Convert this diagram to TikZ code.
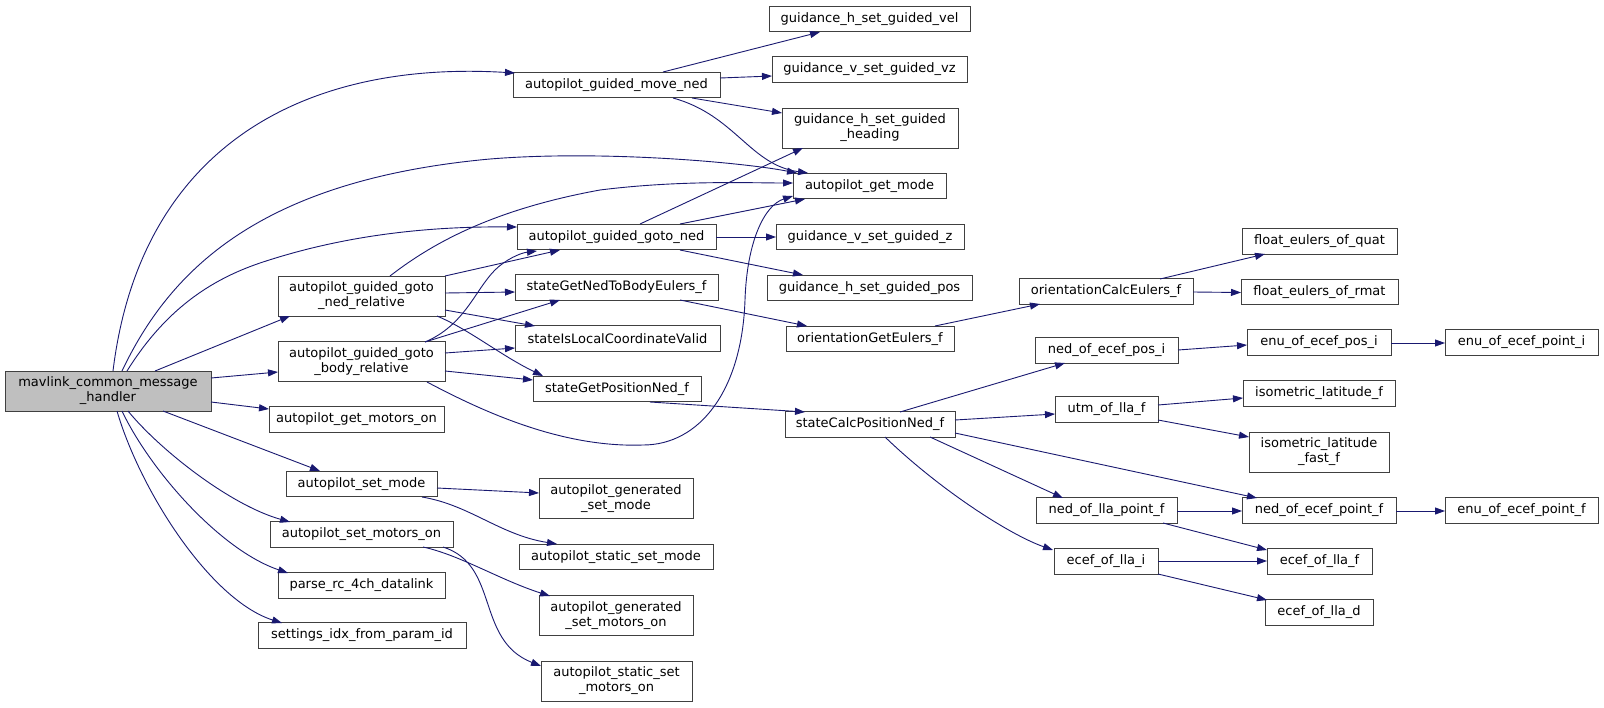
\documentclass[tikz,border=0pt]{standalone}
\usepackage{fontspec}
\setmainfont{DejaVu Sans}
\usetikzlibrary{arrows.meta}
\definecolor{edgec}{HTML}{191970}
\definecolor{boxc}{HTML}{404040}
\definecolor{rootc}{HTML}{BFBFBF}
\begin{document}
\begin{tikzpicture}[x=1pt,y=-1pt,
 fn/.style={draw=boxc, line width=1pt, fill=white, inner sep=0pt, font=\fontsize{13}{15}\selectfont, align=center, minimum height=25.5pt},
 fn2/.style={fn, minimum height=40pt},
 e/.style={draw=edgec, line width=0.9pt, -{Triangle[length=10pt,width=7pt]}}]
\useasboundingbox[fill=white] (0,0) rectangle (1604,707);
% column 0
\node[fn2, fill=rootc, minimum width=206pt] (root) at (108,391) {mavlink\_common\_message\\\_handler};
% column 1
\node[fn2, minimum width=167pt] (body) at (361.5,361.5) {autopilot\_guided\_goto\\\_body\_relative};
\node[fn2, minimum width=167pt] (nedrel) at (361.5,296) {autopilot\_guided\_goto\\\_ned\_relative};
\node[fn, minimum width=175pt] (motorson) at (356.5,419.5) {autopilot\_get\_motors\_on};
\node[fn, minimum width=151pt] (setmode) at (361.5,484) {autopilot\_set\_mode};
\node[fn, minimum width=183pt] (setmotors) at (361.5,534.5) {autopilot\_set\_motors\_on};
\node[fn, minimum width=167pt] (parserc) at (361.5,585.5) {parse\_rc\_4ch\_datalink};
\node[fn, minimum width=208pt] (settings) at (362,635.5) {settings\_idx\_from\_param\_id};
% column 2
\node[fn, minimum width=207pt] (moveNed) at (616.5,85) {autopilot\_guided\_move\_ned};
\node[fn, minimum width=199pt] (gotoNed) at (616.5,237) {autopilot\_guided\_goto\_ned};
\node[fn, minimum width=203pt] (nedToBody) at (616.5,287.5) {stateGetNedToBodyEulers\_f};
\node[fn, minimum width=205pt] (localValid) at (617.5,338.5) {stateIsLocalCoordinateValid};
\node[fn, minimum width=168pt] (posNed) at (617,389) {stateGetPositionNed\_f};
\node[fn2, minimum width=154pt] (gensetmode) at (616,498.5) {autopilot\_generated\\\_set\_mode};
\node[fn, minimum width=194pt] (staticsetmode) at (616,557) {autopilot\_static\_set\_mode};
\node[fn2, minimum width=154pt] (genmotors) at (616,615.5) {autopilot\_generated\\\_set\_motors\_on};
\node[fn2, minimum width=151pt] (staticmotors) at (616.5,681) {autopilot\_static\_set\\\_motors\_on};
% column 3
\node[fn, minimum width=201pt] (hvel) at (869.5,19) {guidance\_h\_set\_guided\_vel};
\node[fn, minimum width=195pt] (vz) at (869.5,69.5) {guidance\_v\_set\_guided\_vz};
\node[fn2, minimum width=176pt] (heading) at (870,128) {guidance\_h\_set\_guided\\\_heading};
\node[fn, minimum width=153pt] (getmode) at (869.5,186) {autopilot\_get\_mode};
\node[fn, minimum width=188pt] (vzz) at (870,237) {guidance\_v\_set\_guided\_z};
\node[fn, minimum width=205pt] (hpos) at (869.5,288) {guidance\_h\_set\_guided\_pos};
\node[fn, minimum width=168pt] (orientGet) at (870,339) {orientationGetEulers\_f};
\node[fn, minimum width=170pt] (calcPos) at (870,424.5) {stateCalcPositionNed\_f};
% column 4
\node[fn, minimum width=174pt] (orientCalc) at (1106,291.5) {orientationCalcEulers\_f};
\node[fn, minimum width=143pt] (nedEcefPos) at (1106.5,350.5) {ned\_of\_ecef\_pos\_i};
\node[fn, minimum width=103pt] (utm) at (1106.5,409.5) {utm\_of\_lla\_f};
\node[fn, minimum width=141pt] (nedLla) at (1106.5,510.5) {ned\_of\_lla\_point\_f};
\node[fn, minimum width=104pt] (ecefllai) at (1106,561.5) {ecef\_of\_lla\_i};
% column 5
\node[fn, minimum width=155pt] (quat) at (1319.5,241.5) {float\_eulers\_of\_quat};
\node[fn, minimum width=157pt] (rmat) at (1319.5,292) {float\_eulers\_of\_rmat};
\node[fn, minimum width=144pt] (enuEcefPos) at (1319,342.5) {enu\_of\_ecef\_pos\_i};
\node[fn, minimum width=152pt] (isoLat) at (1319,393.5) {isometric\_latitude\_f};
\node[fn2, minimum width=140pt] (isoFast) at (1319,452) {isometric\_latitude\\\_fast\_f};
\node[fn, minimum width=154pt] (nedEcefPt) at (1319,510.5) {ned\_of\_ecef\_point\_f};
\node[fn, minimum width=105pt] (ecefllaf) at (1319.5,561.5) {ecef\_of\_lla\_f};
\node[fn, minimum width=108pt] (ecefllad) at (1319,612.5) {ecef\_of\_lla\_d};
% column 6
\node[fn, minimum width=153pt] (enuEcefPti) at (1521.5,342.5) {enu\_of\_ecef\_point\_i};
\node[fn, minimum width=153pt] (enuEcefPtf) at (1521.5,510.5) {enu\_of\_ecef\_point\_f};
% edges from root
\draw[e] ([shift={(5,-20)}]root.center) .. controls (140,150) and (300,60) .. ([shift={(-101.5,-12)}]moveNed.center);
\draw[e] ([shift={(14,-20)}]root.center) .. controls (170,270) and (260,180) .. (490,159) .. controls (600,150) and (740,162) .. ([shift={(-72.5,-13)}]getmode.center);
\draw[e] ([shift={(19,-20)}]root.center) .. controls (165,310) and (210,280) .. (260,263) .. controls (320,243) and (400,226) .. ([shift={(-99.5,-10)}]gotoNed.center);
\draw[e] ([shift={(47,-20)}]root.center) -- ([shift={(-71.5,20)}]nedrel.center);
\draw[e] ([shift={(103,-13)}]root.center) -- ([shift={(-83.5,10.5)}]body.center);
\draw[e] ([shift={(103,11)}]root.center) -- ([shift={(-87.5,-10.5)}]motorson.center);
\draw[e] ([shift={(55,20)}]root.center) -- ([shift={(-41.5,-13)}]setmode.center);
\draw[e] ([shift={(20,20)}]root.center) .. controls (160,450) and (230,505) .. ([shift={(-71.5,-12.5)}]setmotors.center);
\draw[e] ([shift={(14,20)}]root.center) .. controls (150,470) and (220,550) .. ([shift={(-73.5,-12.5)}]parserc.center);
\draw[e] ([shift={(9,20)}]root.center) .. controls (140,490) and (210,600) .. ([shift={(-80,-12.5)}]settings.center);
% nedrel
\draw[e] ([shift={(83.5,-20)}]nedrel.center) -- ([shift={(-56.5,13)}]gotoNed.center);
\draw[e] ([shift={(83.5,-3)}]nedrel.center) -- ([shift={(-101.5,4.5)}]nedToBody.center);
\draw[e] ([shift={(83.5,14)}]nedrel.center) -- ([shift={(-82.5,-12.5)}]localValid.center);
\draw[e] ([shift={(75.5,20)}]nedrel.center) .. controls (470,330) and (500,355) .. ([shift={(-74,-13)}]posNed.center);
\draw[e] ([shift={(28.5,-20)}]nedrel.center) .. controls (430,245) and (490,210) .. (600,190) .. controls (680,180) and (750,183) .. ([shift={(-76.5,-3)}]getmode.center);
% body
\draw[e] ([shift={(63.5,-19.5)}]body.center) .. controls (465,325) and (475,290) .. (495,270) .. controls (505,260) and (520,253) .. ([shift={(-79.5,14)}]gotoNed.center);
\draw[e] ([shift={(63.5,-19.5)}]body.center) -- ([shift={(-56.5,12.5)}]nedToBody.center);
\draw[e] ([shift={(83.5,-8.5)}]body.center) -- ([shift={(-102.5,9.5)}]localValid.center);
\draw[e] ([shift={(83.5,9.5)}]body.center) -- ([shift={(-84,-9)}]posNed.center);
\draw[e] ([shift={(65.5,20.5)}]body.center) .. controls (480,410) and (560,448) .. (643,445) .. controls (700,445) and (742,390) .. (745,300) .. controls (747,240) and (765,205) .. ([shift={(-76.5,10)}]getmode.center);
% moveNed
\draw[e] ([shift={(46.5,-13)}]moveNed.center) -- ([shift={(-49.5,13)}]hvel.center);
\draw[e] ([shift={(103.5,-7)}]moveNed.center) -- ([shift={(-97.5,6.5)}]vz.center);
\draw[e] ([shift={(75.5,13)}]moveNed.center) -- ([shift={(-88,-15)}]heading.center);
\draw[e] ([shift={(56.5,13)}]moveNed.center) .. controls (735,115) and (750,165) .. ([shift={(-61.5,-13)}]getmode.center);
% gotoNed
\draw[e] ([shift={(23.5,-13)}]gotoNed.center) -- ([shift={(-67,20)}]heading.center);
\draw[e] ([shift={(63.5,-13)}]gotoNed.center) -- ([shift={(-64.5,13)}]getmode.center);
\draw[e] ([shift={(99.5,0)}]gotoNed.center) -- ([shift={(-94,0)}]vzz.center);
\draw[e] ([shift={(63.5,13)}]gotoNed.center) -- ([shift={(-66.5,-13)}]hpos.center);
% eulers
\draw[e] ([shift={(63.5,12.5)}]nedToBody.center) -- ([shift={(-63,-13)}]orientGet.center);
\draw[e] ([shift={(65,-13)}]orientGet.center) -- ([shift={(-66,12.5)}]orientCalc.center);
\draw[e] ([shift={(54,-12.5)}]orientCalc.center) -- ([shift={(-54.5,12.5)}]quat.center);
\draw[e] ([shift={(87,0.5)}]orientCalc.center) -- ([shift={(-78.5,0.5)}]rmat.center);
% position
\draw[e] ([shift={(33,13)}]posNed.center) -- ([shift={(-65,-12.5)}]calcPos.center);
\draw[e] ([shift={(30,-12.5)}]calcPos.center) -- ([shift={(-41.5,12.5)}]nedEcefPos.center);
\draw[e] ([shift={(85,-4.5)}]calcPos.center) -- ([shift={(-51.5,4.5)}]utm.center);
\draw[e] ([shift={(85,8.5)}]calcPos.center) -- ([shift={(-62,-12.5)}]nedEcefPt.center);
\draw[e] ([shift={(60,12.5)}]calcPos.center) -- ([shift={(-43.5,-12.5)}]nedLla.center);
\draw[e] ([shift={(15,12.5)}]calcPos.center) .. controls (940,490) and (1010,535) .. ([shift={(-53,-11.5)}]ecefllai.center);
\draw[e] ([shift={(71.5,-0.5)}]nedEcefPos.center) -- ([shift={(-72,2.5)}]enuEcefPos.center);
\draw[e] ([shift={(72,0.5)}]enuEcefPos.center) -- ([shift={(-76.5,0.5)}]enuEcefPti.center);
\draw[e] ([shift={(51.5,-4.5)}]utm.center) -- ([shift={(-76,4.5)}]isoLat.center);
\draw[e] ([shift={(51.5,10.5)}]utm.center) -- ([shift={(-70,-15)}]isoFast.center);
\draw[e] ([shift={(70.5,0.5)}]nedLla.center) -- ([shift={(-77,0.5)}]nedEcefPt.center);
\draw[e] ([shift={(56.5,12.5)}]nedLla.center) -- ([shift={(-52.5,-11.5)}]ecefllaf.center);
\draw[e] ([shift={(77,0.5)}]nedEcefPt.center) -- ([shift={(-76.5,0.5)}]enuEcefPtf.center);
\draw[e] ([shift={(52,-0.5)}]ecefllai.center) -- ([shift={(-52.5,-0.5)}]ecefllaf.center);
\draw[e] ([shift={(52,12.5)}]ecefllai.center) -- ([shift={(-52,-12.5)}]ecefllad.center);
% set mode / motors
\draw[e] ([shift={(75.5,4)}]setmode.center) -- ([shift={(-77,-5.5)}]gensetmode.center);
\draw[e] ([shift={(60.5,13)}]setmode.center) .. controls (470,505) and (500,535) .. ([shift={(-59,-13)}]staticsetmode.center);
\draw[e] ([shift={(61.5,12.5)}]setmotors.center) .. controls (460,555) and (500,580) .. ([shift={(-66,-19.5)}]genmotors.center);
\draw[e] ([shift={(81.5,12.5)}]setmotors.center) .. controls (500,565) and (475,640) .. ([shift={(-75.5,-15)}]staticmotors.center);
\end{tikzpicture}
\end{document}
